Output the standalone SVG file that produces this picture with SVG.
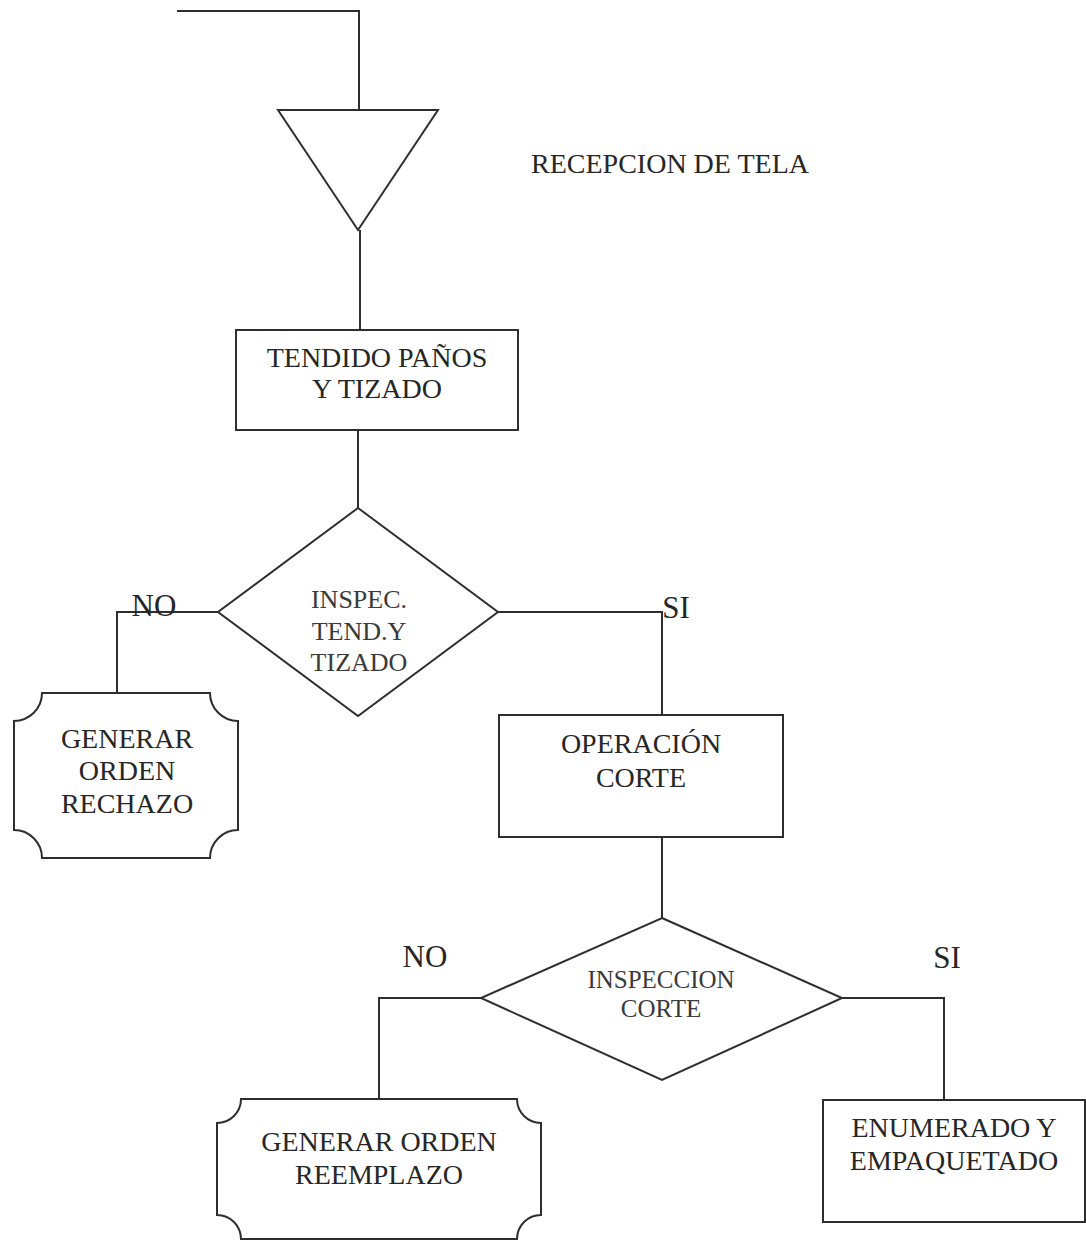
<svg xmlns="http://www.w3.org/2000/svg" width="1086" height="1241" viewBox="0 0 1086 1241">
  <style>
    .shape { fill: none; stroke: #2e2e2e; stroke-width: 2; stroke-linejoin: miter; }
    .wire { fill: none; stroke: #2e2e2e; stroke-width: 2; }
    text { font-family: "Liberation Serif", "Times New Roman", serif; fill: #262626; text-anchor: middle; }
    .lbl { font-size: 28px; }
    .dec { font-size: 26px; fill: #3a3a3a; }
    .yn { font-size: 31px; }
  </style>
  <rect width="1086" height="1241" fill="#ffffff"/>

  <!-- connectors -->
  <g id="connectors">
    <polyline class="wire" points="177,11 359,11 359,110"/>
    <line class="wire" x1="360" y1="230" x2="360" y2="330"/>
    <line class="wire" x1="358" y1="430" x2="358" y2="508"/>
    <polyline class="wire" points="218,612 117,612 117,693"/>
    <polyline class="wire" points="498,612 662,612 662,715"/>
    <line class="wire" x1="662" y1="837" x2="662" y2="918"/>
    <polyline class="wire" points="481,998 379,998 379,1099"/>
    <polyline class="wire" points="842,998 944,998 944,1100"/>
  </g>

  <!-- storage triangle: fabric reception -->
  <g id="recepcion">
    <polygon class="shape" points="278,110 438,110 358,230"/>
    <text class="lbl" x="670" y="173">RECEPCION DE TELA</text>
  </g>

  <g id="tendido">
    <rect class="shape" x="236" y="330" width="282" height="100"/>
    <text class="lbl" x="377" y="367">TENDIDO PAÑOS</text>
    <text class="lbl" x="377" y="398">Y TIZADO</text>
  </g>

  <g id="inspec-tendido">
    <polygon class="shape" points="358,508 498,612 358,716 218,612"/>
    <text class="dec" x="359" y="608">INSPEC.</text>
    <text class="dec" x="359" y="640">TEND.Y</text>
    <text class="dec" x="359" y="671">TIZADO</text>
  </g>
  <text class="yn" x="154" y="616">NO</text>
  <text class="yn" x="676" y="618">SI</text>

  <g id="orden-rechazo">
    <path class="shape" d="M42,693 H210 A28,28 0 0 0 238,721 V830 A28,28 0 0 0 210,858 H42 A28,28 0 0 0 14,830 V721 A28,28 0 0 0 42,693 Z"/>
    <text class="lbl" x="127" y="748">GENERAR</text>
    <text class="lbl" x="127" y="780">ORDEN</text>
    <text class="lbl" x="127" y="813">RECHAZO</text>
  </g>

  <g id="operacion-corte">
    <rect class="shape" x="499" y="715" width="284" height="122"/>
    <text class="lbl" x="641" y="753">OPERACIÓN</text>
    <text class="lbl" x="641" y="787">CORTE</text>
  </g>

  <g id="inspeccion-corte">
    <polygon class="shape" points="662,918 842,998 662,1080 481,998"/>
    <text class="dec" x="661" y="988" style="font-size:25px">INSPECCION</text>
    <text class="dec" x="661" y="1017" style="font-size:25px">CORTE</text>
  </g>
  <text class="yn" x="425" y="967">NO</text>
  <text class="yn" x="947" y="968">SI</text>

  <g id="orden-reemplazo">
    <path class="shape" d="M241,1099 H517 A24,24 0 0 0 541,1123 V1215 A24,24 0 0 0 517,1239 H241 A24,24 0 0 0 217,1215 V1123 A24,24 0 0 0 241,1099 Z"/>
    <text class="lbl" x="379" y="1151">GENERAR ORDEN</text>
    <text class="lbl" x="379" y="1184">REEMPLAZO</text>
  </g>

  <g id="enumerado">
    <rect class="shape" x="823" y="1100" width="262" height="122"/>
    <text class="lbl" x="954" y="1137">ENUMERADO Y</text>
    <text class="lbl" x="954" y="1170">EMPAQUETADO</text>
  </g>
</svg>
